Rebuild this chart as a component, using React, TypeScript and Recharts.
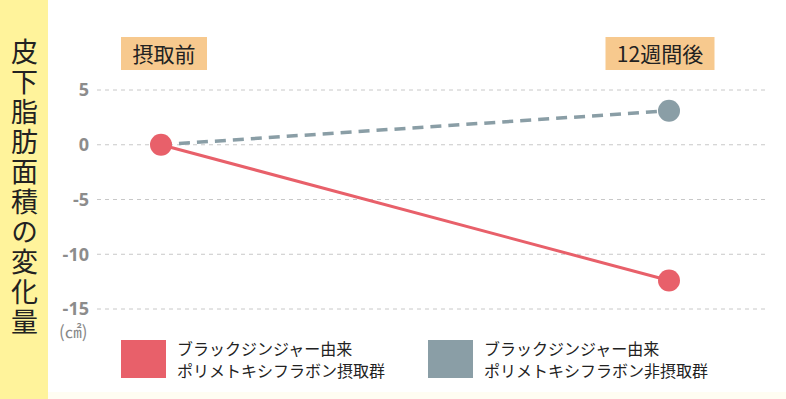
import React from 'react';
import { LineChart, Line, XAxis, YAxis, CartesianGrid } from 'recharts';

const periods = ['摂取前', '12週間後'];
const takenValues = [0, -12.4];
const notTakenValues = [0, 3.1];
const yTicks = [5, 0, -5, -10, -15];
const seriesNames = [
  ['ブラックジンジャー由来', 'ポリメトキシフラボン摂取群'],
  ['ブラックジンジャー由来', 'ポリメトキシフラボン非摂取群'],
];
const yTitle = '皮下脂肪面積の変化量';

const RED = '#e8606a';
const GRAY = '#8a9ea6';
const FONT = '"Noto Sans CJK JP", "Noto Sans", sans-serif';

const data = periods.map((p, i) => ({
  period: p,
  taken: takenValues[i],
  notTaken: notTakenValues[i],
}));

// box sizes for the period labels
const boxWidths = [86, 109];
const boxShift = [3, -9];

const PeriodTick = (props: any) => {
  const { x, payload, index } = props;
  const label: string = payload.value;
  const w = boxWidths[index] ?? 90;
  const cx = x + (boxShift[index] ?? 0);
  return (
    <g>
      <rect x={cx - w / 2} y={37} width={w} height={33} fill="#f7c98e" />
      <text x={cx} y={62} textAnchor="middle" fontSize={21} fill="#222" fontFamily={FONT}>
        {label}
      </text>
    </g>
  );
};

const endDot = (color: string, skipFirst: boolean) => (props: any) => {
  const { cx, cy, index } = props;
  if (skipFirst && index === 0) return <g key={index} />;
  return <circle key={index} cx={cx} cy={cy} r={11} fill={color} />;
};

export default function App() {
  return (
    <div
      style={{
        position: 'absolute',
        left: 0,
        top: 0,
        width: 786,
        height: 399,
        background: '#ffffff',
        fontFamily: FONT,
        overflow: 'hidden',
      }}
    >
      <div style={{ position: 'absolute', left: 0, top: 0, width: 48, height: 399, background: '#fff39b' }} />
      <div style={{ position: 'absolute', left: 48, top: 392, width: 738, height: 7, background: '#fffdf2' }} />
      <div
        style={{
          position: 'absolute',
          left: 8,
          top: 38,
          writingMode: 'vertical-rl',
          fontSize: 27,
          letterSpacing: 3,
          color: '#222',
          lineHeight: '32px',
        }}
      >
        {yTitle}
      </div>

      <div style={{ position: 'absolute', left: 0, top: 0 }}>
        <LineChart
          width={786}
          height={399}
          data={data}
          margin={{ top: 60, right: 21, bottom: 90, left: 0 }}
        >
          <CartesianGrid vertical={false} stroke="#c8c8c8" strokeDasharray="4 4" />
          <XAxis
            dataKey="period"
            orientation="top"
            height={30}
            axisLine={false}
            tickLine={false}
            padding={{ left: 64, right: 96 }}
            tick={<PeriodTick />}
            interval={0}
          />
          <YAxis
            type="number"
            domain={[-15, 5]}
            ticks={yTicks}
            width={97}
            axisLine={false}
            tickLine={false}
            tick={{ fill: '#8c8c8c', fontSize: 18, fontWeight: 700, fontFamily: '"Open Sans", sans-serif' }}
          />
          <Line
            dataKey="notTaken"
            stroke={GRAY}
            strokeWidth={3.5}
            strokeDasharray="11 7"
            dot={endDot(GRAY, true)}
            activeDot={false}
            isAnimationActive={false}
          />
          <Line
            dataKey="taken"
            stroke={RED}
            strokeWidth={3}
            dot={endDot(RED, false)}
            activeDot={false}
            isAnimationActive={false}
          />
        </LineChart>
      </div>

      <div
        style={{
          position: 'absolute',
          left: 59,
          top: 318,
          fontSize: 17,
          color: '#888',
        }}
      >
        (㎠)
      </div>

      {[RED, GRAY].map((c, i) => (
        <div
          key={i}
          style={{ position: 'absolute', left: i === 0 ? 121 : 428, top: 337, display: 'flex', alignItems: 'center' }}
        >
          <div style={{ width: 45, height: 38, background: c }} />
          <div style={{ marginLeft: 11, fontSize: 16, lineHeight: '22px', color: '#222' }}>
            {seriesNames[i][0]}
            <br />
            {seriesNames[i][1]}
          </div>
        </div>
      ))}
    </div>
  );
}
